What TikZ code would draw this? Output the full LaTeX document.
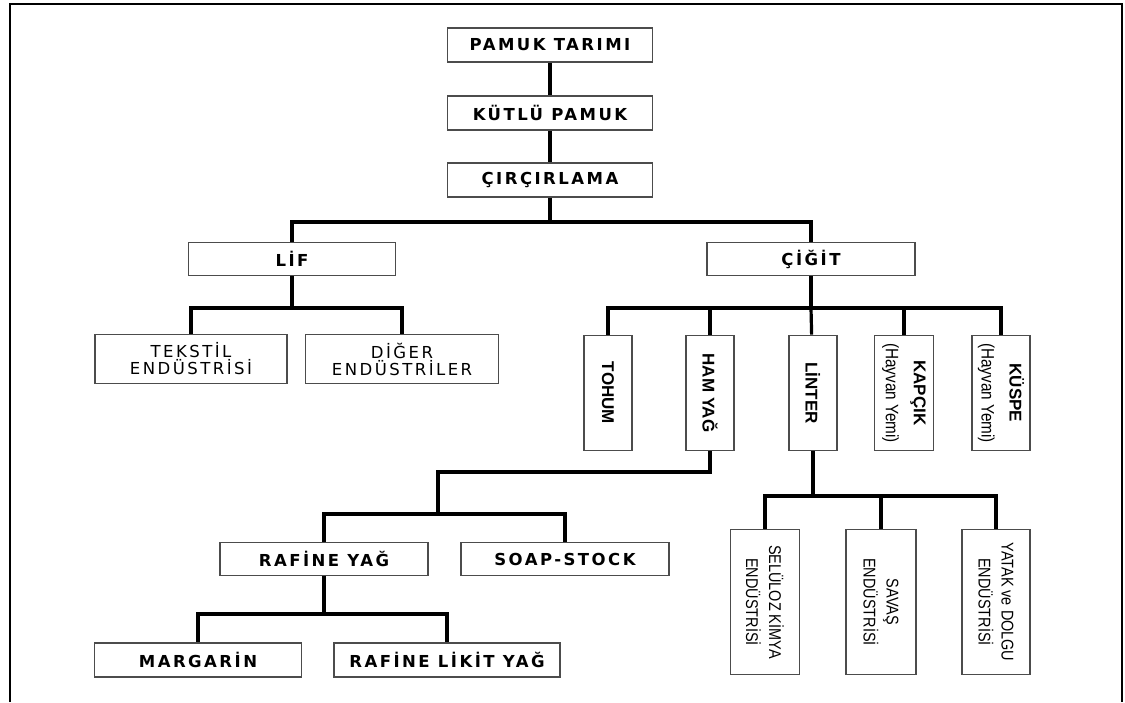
\documentclass[tikz,border=0pt]{standalone}
\usepackage{fontspec}
\newfontfamily\boxfont[LetterSpace=15]{DejaVu Sans}
\newfontfamily\sidefont{Liberation Sans}
\newfontfamily\narrowfont[FakeStretch=0.85]{Liberation Sans}
\tikzset{
  box/.style={draw=black!70, line width=1.7pt, fill=white, inner sep=2pt, align=center},
  hbox/.style={box, minimum width=205pt, minimum height=34pt, font={\boxfont\bfseries\fontsize{16.5}{19}\selectfont}},
  tbox/.style={box, minimum width=192pt, minimum height=49pt, font={\boxfont\fontsize{16.5}{17}\selectfont}},
  vbox/.style={box, rotate=-90, minimum width=115pt, minimum height=48pt, font={\sidefont\bfseries\fontsize{17}{19}\selectfont}},
  sbox/.style={box, rotate=-90, minimum width=145pt, minimum height=69pt, font={\narrowfont\fontsize{17}{23}\selectfont}},
  conn/.style={line width=3.2pt},
  frame/.style={line width=2.8pt}
}
\newcommand{\feed}[1]{{\narrowfont\mdseries\fontsize{18}{20}\selectfont #1}}
\begin{document}
\begin{tikzpicture}[x=1pt, y=-1pt]
  \useasboundingbox (0,0) rectangle (1125,702);
  \draw[frame] (10,702) -- (10,4) -- (1122,4) -- (1122,702);

  \node (pamuk) [hbox] at (550,45) {PAMUK TARIMI};
  \node (kutlu) [hbox] at (550,113) {KÜTLÜ PAMUK};
  \node (cir) [hbox] at (550,180) {ÇIRÇIRLAMA};
  \node (lif) [hbox, minimum width=207pt, minimum height=33pt] at (292,259) {LİF};
  \node (cigit) [hbox, minimum width=208pt, minimum height=33pt] at (811,259) {ÇİĞİT};

  \node (tekstil) [tbox] at (191,359) {TEKSTİL\\ENDÜSTRİSİ};
  \node (diger) [tbox, minimum width=193pt] at (402,359) {DİĞER\\ENDÜSTRİLER};

  \node (tohum) [vbox] at (608,393) {TOHUM};
  \node (ham) [vbox] at (710,393) {HAM YAĞ};
  \node (linter) [vbox] at (813,393) {LİNTER};
  \node (kapcik) [vbox, minimum height=59pt] at (904,393) {KAPÇIK\\[9pt]\feed{(Hayvan Yemi)}};
  \node (kuspe) [vbox, minimum height=58pt] at (1001,393) {KÜSPE\\[9pt]\feed{(Hayvan Yemi)}};

  \node (rafine) [hbox, minimum width=208pt, minimum height=33pt] at (324,559) {RAFİNE YAĞ};
  \node (soap) [hbox, minimum width=208pt, minimum height=33pt] at (565,559) {SOAP-STOCK};
  \node (margarin) [hbox, minimum width=207pt] at (198,660) {MARGARİN};
  \node (likit) [hbox, minimum width=226pt] at (447,660) {RAFİNE LİKİT YAĞ};

  \node (seluloz) [sbox] at (765,602) {SELÜLOZ KİMYA\\ENDÜSTRİSİ};
  \node (savas) [sbox, minimum height=70pt] at (881,602) {SAVAŞ\\ENDÜSTRİSİ};
  \node (yatak) [sbox, minimum height=68pt] at (996,602) {YATAK ve DOLGU\\ENDÜSTRİSİ};

  \coordinate (b1) at (550,222);
  \coordinate (b2) at (292,308);
  \coordinate (b3) at (811,308);
  \coordinate (h1) at (710,472);
  \coordinate (b4) at (438,514);
  \coordinate (b5) at (324,614);
  \coordinate (b6) at (813,496);

  \draw[conn] (pamuk) -- (kutlu);
  \draw[conn] (kutlu) -- (cir);
  \draw[conn] (cir) -- (b1) -| (lif);
  \draw[conn] (b1) -| (cigit);
  \draw[conn] (lif) -- (b2) -| (tekstil);
  \draw[conn] (b2) -| (diger);
  \draw[conn] (cigit) -- (b3) -| (tohum);
  \draw[conn] (b3) -| (ham);
  \draw[conn] (b3) -- (linter);
  \draw[conn] (b3) -| (kapcik);
  \draw[conn] (b3) -| (kuspe);
  \draw[conn] (ham) -- (h1) -| (b4) -| (rafine);
  \draw[conn] (b4) -| (soap);
  \draw[conn] (rafine) -- (b5) -| (margarin);
  \draw[conn] (b5) -| (likit);
  \draw[conn] (linter) -- (b6) -| (seluloz);
  \draw[conn] (b6) -| (savas);
  \draw[conn] (b6) -| (yatak);
\end{tikzpicture}
\end{document}
